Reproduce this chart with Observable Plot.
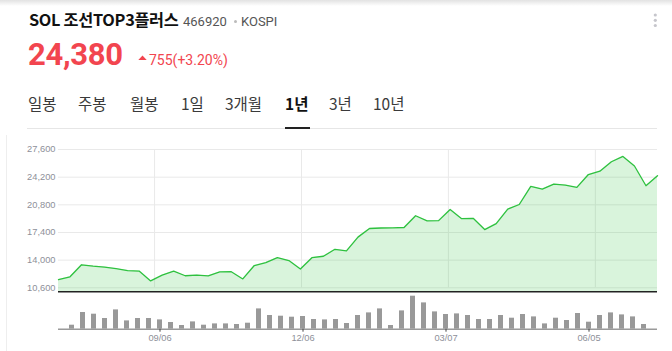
<!DOCTYPE html>
<html><head><meta charset="utf-8">
<script src="https://cdn.jsdelivr.net/npm/d3@7"></script>
<script src="https://cdn.jsdelivr.net/npm/@observablehq/plot@0.6"></script>
<style>
html,body{margin:0;padding:0;background:#fff;width:672px;height:351px;overflow:hidden;font-family:"Noto Sans CJK KR","Noto Sans",sans-serif;}
#shadow{position:absolute;left:0;top:0;width:672px;height:6px;background:linear-gradient(#e2e2e2,#ffffff);}
#header{position:absolute;left:0;top:0;}
#price{position:absolute;left:0;top:140px;}
#vol{position:absolute;left:0;top:292px;}
</style></head><body>
<div id="shadow"></div>
<svg id="header" width="672" height="351" font-family="'Noto Sans CJK KR','Noto Sans',sans-serif">
  <line x1="6.5" x2="6.5" y1="135" y2="351" stroke="#eeeeee"/>
  <text x="29" y="26" font-size="16.3" font-weight="700" fill="#111" letter-spacing="-0.3">SOL 조선TOP3플러스</text>
  <text x="183" y="26" font-size="13" fill="#555" font-family="Roboto,'Noto Sans',sans-serif">466920</text>
  <circle cx="235.5" cy="21.5" r="1.5" fill="#bbb"/>
  <text x="241" y="26" font-size="13" fill="#555" font-family="Roboto,'Noto Sans',sans-serif">KOSPI</text>
  <text x="28" y="65" font-size="31" font-weight="700" fill="#f2454f" font-family="Roboto,'Noto Sans',sans-serif" letter-spacing="-0.3">24,380</text>
  <polygon points="138.3,60 146.7,60 142.5,55.5" fill="#f2454f"/>
  <text x="149" y="65" font-size="14" fill="#f2454f" font-family="Roboto,'Noto Sans',sans-serif">755(+3.20%)</text>
  <g font-size="15.5" fill="#3a3a3a">
    <text x="28" y="110">일봉</text>
    <text x="78" y="110">주봉</text>
    <text x="130" y="110">월봉</text>
    <text x="181" y="110">1일</text>
    <text x="225" y="110">3개월</text>
    <text x="285" y="110" font-weight="700" fill="#111">1년</text>
    <text x="329" y="110">3년</text>
    <text x="373" y="110">10년</text>
  </g>
  <line x1="27" x2="657" y1="128.5" y2="128.5" stroke="#e6e6e6"/>
  <rect x="285" y="127" width="25" height="2" fill="#222"/>
  <circle cx="655.3" cy="15" r="1.6" fill="#c6c6cc"/>
  <circle cx="655.3" cy="20.3" r="1.6" fill="#c6c6cc"/>
  <circle cx="655.3" cy="25.5" r="1.6" fill="#c6c6cc"/>
</svg>
<div id="price"></div>
<div id="vol"></div>
<script>
// weekly closing prices (KRW), one year
const prices = [11610, 11950, 13430, 13270, 13150, 12950, 12720, 12660, 11450, 12150,
  12640, 12080, 12170, 12060, 12550, 12580, 11690, 13340, 13700, 14300,
  13950, 12900, 14300, 14480, 15330, 15130, 16830, 17890, 17950, 17960,
  18010, 19460, 18830, 18860, 20230, 19100, 19140, 17760, 18490, 20270,
  20840, 23060, 22740, 23350, 23230, 22940, 24520, 24930, 26090, 26750,
  25570, 23140, 24380];
// weekly volume (relative units)
const volumes = [4, 16.7, 15, 10.7, 19.3, 8.3, 10.7, 10.7, 9.3, 6.7,
  3.7, 7.3, 4, 5.3, 5.3, 4.7, 6, 20.3, 13.7, 13,
  12, 12.7, 9.7, 9.3, 9.7, 5.7, 13.7, 16.3, 20.3, 3.7,
  18.3, 33, 26.3, 17.3, 14.7, 15.3, 13.7, 9.7, 9.7, 13.7,
  11, 14.7, 12.3, 5.3, 11, 8.7, 15.7, 7, 13.7, 16.3,
  14.3, 12.3, 4.7];
const priceTicks = [10600, 14000, 17400, 20800, 24200, 27600];
const xTickIdx = [8, 21, 34, 47];
const xTickLabels = ["09/06", "12/06", "03/07", "06/05"];

const n = prices.length;
const pdata = prices.map((p, i) => ({i, p}));
const vdata = volumes.map((v, i) => ({i, v}));
const yLow = 9899, yHigh = 28706, base = 10108;
const green = "#2ec13f";
const axisFont = "'Liberation Sans',Arial,sans-serif";

const priceChart = Plot.plot({
  width: 672, height: 153,
  marginLeft: 58, marginRight: 15, marginTop: 0, marginBottom: 0,
  x: {domain: [0, n - 1], axis: null},
  y: {domain: [yLow, yHigh], axis: null},
  style: {fontFamily: axisFont, background: "transparent", overflow: "visible"},
  marks: [
    Plot.ruleY(priceTicks, {stroke: "#e9e9e9"}),
    Plot.ruleX(xTickIdx.map(i => (i + 0.5) * (n - 1) / n), {y1: priceTicks[0], y2: priceTicks[priceTicks.length - 1], stroke: "#e9e9e9"}),
    Plot.areaY(pdata, {x: "i", y1: base, y2: "p", fill: green, fillOpacity: 0.18}),
    Plot.lineY(pdata, {x: "i", y: "p", stroke: green, strokeWidth: 1.3}),
    Plot.ruleY([base], {stroke: "#222", strokeWidth: 1.5}),
    Plot.axisY(priceTicks, {tickSize: 0, tickPadding: 3, label: null, tickFormat: d3.format(","), fill: "#8e9099", fontSize: 9.3})
  ]
});
document.getElementById("price").appendChild(priceChart);

const volChart = Plot.plot({
  width: 672, height: 59,
  marginLeft: 58, marginRight: 15, marginTop: 0, marginBottom: 22.3,
  x: {type: "band", domain: d3.range(n), paddingInner: 0.55, paddingOuter: 0.275, axis: null},
  y: {domain: [0, 36.7], axis: null},
  style: {fontFamily: axisFont, background: "transparent", overflow: "visible"},
  marks: [
    Plot.barY(vdata, {x: "i", y: "v", fill: "#999"}),
    Plot.ruleY([0], {stroke: "#9a9a9a", strokeWidth: 1.5}),
    Plot.axisX(xTickIdx, {tickSize: 3, tickPadding: 2, label: null, stroke: "#444", fill: "#8e9099", fontSize: 9.3,
      tickFormat: d => xTickLabels[xTickIdx.indexOf(d)]})
  ]
});
document.getElementById("vol").appendChild(volChart);
</script>
</body></html>
